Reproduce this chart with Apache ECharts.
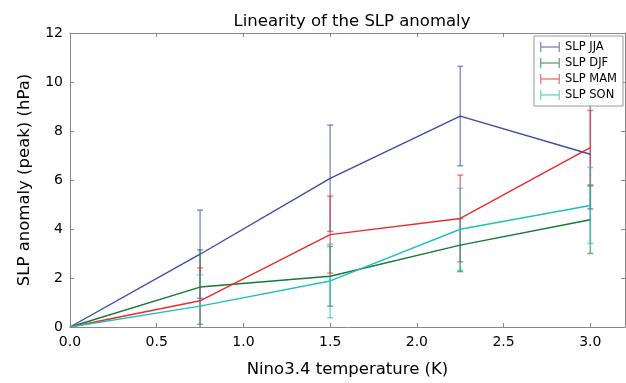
<!DOCTYPE html>
<html><head><meta charset="utf-8">
<script src="https://cdn.jsdelivr.net/npm/echarts@6/dist/echarts.min.js"></script>
<style>html,body{margin:0;padding:0;background:#fff}#c{width:626px;height:383px}</style>
</head><body><div id="c"></div>
<script>
const xValues = [0, 0.75, 1.5, 2.25, 3.0];
const seriesNames = ['SLP JJA', 'SLP DJF', 'SLP MAM', 'SLP SON'];
const jjaMean = [0, 2.97, 6.07, 8.61, 7.05];
const jjaErr  = [0, 1.80, 2.17, 2.03, 2.23];
const djfMean = [0, 1.63, 2.07, 3.34, 4.38];
const djfErr  = [0, 1.52, 1.22, 1.08, 1.38];
const mamMean = [0, 1.07, 3.77, 4.43, 7.32];
const mamErr  = [0, 1.35, 1.57, 1.77, 1.52];
const sonMean = [0, 0.85, 1.88, 3.99, 4.96];
const sonErr  = [0, 1.28, 1.50, 1.67, 1.55];
const xTicks = [0, 0.5, 1.0, 1.5, 2.0, 2.5, 3.0];
const yTicks = [0, 2, 4, 6, 8, 10, 12];

const colors = ['#3a4da8', '#137a35', '#ee2a2a', '#22bfbf'];
const errColors = ['rgba(58,77,168,0.6)', 'rgba(19,122,53,0.6)', 'rgba(238,42,42,0.6)', 'rgba(34,191,191,0.6)'];
const means = [jjaMean, djfMean, mamMean, sonMean];
const errs = [jjaErr, djfErr, mamErr, sonErr];
const FONT = 'DejaVu Sans';

const series = [];
seriesNames.forEach((name, i) => {
  series.push({
    name: name, type: 'custom', xAxisIndex: 0, yAxisIndex: 0, clip: true, z: 2,
    data: xValues.map((x, k) => [x, means[i][k] - errs[i][k], means[i][k] + errs[i][k]]).filter(d => d[2] > d[1]),
    renderItem: function (params, api) {
      const lo = api.coord([api.value(0), api.value(1)]);
      const hi = api.coord([api.value(0), api.value(2)]);
      const w = 3;
      const st = { stroke: errColors[i], lineWidth: 1.5 };
      return { type: 'group', children: [
        { type: 'line', shape: { x1: lo[0], y1: lo[1], x2: hi[0], y2: hi[1] }, style: st },
        { type: 'line', shape: { x1: lo[0] - w, y1: lo[1], x2: lo[0] + w, y2: lo[1] }, style: st },
        { type: 'line', shape: { x1: hi[0] - w, y1: hi[1], x2: hi[0] + w, y2: hi[1] }, style: st }
      ]};
    },
    itemStyle: { color: errColors[i] }
  });
});
seriesNames.forEach((name, i) => {
  series.push({
    name: name, type: 'line', xAxisIndex: 0, yAxisIndex: 0, z: 3,
    data: xValues.map((x, k) => [x, means[i][k]]),
    symbol: 'none', lineStyle: { color: colors[i], width: 1.4 }, itemStyle: { color: colors[i] }
  });
});

const hIcon = 'path://M0,0h1.4v4.3h17.2v-4.3h1.4v10h-1.4v-4.3h-17.2v4.3h-1.4z';
function axisLine() { return { show: true, onZero: false, lineStyle: { color: '#888', width: 1 } }; }
function axisTick(vals) {
  const t = { show: true, inside: true, length: 4, lineStyle: { color: '#888' } };
  if (vals) t.customValues = vals;
  return t;
}
const chart = echarts.init(document.getElementById('c'), null, { renderer: 'canvas' });
chart.setOption({
  animation: false,
  backgroundColor: '#fff',
  title: { text: 'Linearity of the SLP anomaly', left: 347, textAlign: 'center', top: 8,
    textStyle: { fontFamily: FONT, fontSize: 16.5, fontWeight: 'normal', color: '#000' } },
  legend: {
    right: 3, top: 36, orient: 'vertical', itemGap: 4, itemWidth: 20, itemHeight: 10,
    padding: [5, 6, 5, 6], borderColor: '#999', borderWidth: 1, backgroundColor: '#fff',
    textStyle: { fontFamily: FONT, fontSize: 11.5, color: '#000' },
    data: seriesNames.map((n, i) => ({ name: n, icon: hIcon, itemStyle: { color: errColors[i] } })),
    z: 10
  },
  grid: { left: 70, right: 1, top: 33, bottom: 54, containLabel: false },
  xAxis: [
    { type: 'value', min: 0, max: 3.2, position: 'bottom',
      name: 'Nino3.4 temperature (K)', nameLocation: 'middle', nameGap: 34,
      nameTextStyle: { fontFamily: FONT, fontSize: 16.5, color: '#000' },
      axisLabel: { fontFamily: FONT, fontSize: 14, color: '#000', margin: 8,
        customValues: xTicks, formatter: v => v.toFixed(1) },
      axisLine: axisLine(), axisTick: axisTick(xTicks), splitLine: { show: false } },
    { type: 'value', min: 0, max: 3.2, position: 'top',
      axisLabel: { show: false },
      axisLine: axisLine(), axisTick: axisTick(xTicks), splitLine: { show: false } }
  ],
  yAxis: [
    { type: 'value', min: 0, max: 12, interval: 2, position: 'left',
      name: 'SLP anomaly (peak) (hPa)', nameLocation: 'middle', nameGap: 37,
      nameTextStyle: { fontFamily: FONT, fontSize: 16.5, color: '#000' },
      axisLabel: { fontFamily: FONT, fontSize: 14, color: '#000', margin: 7 },
      axisLine: axisLine(), axisTick: axisTick(), splitLine: { show: false } },
    { type: 'value', min: 0, max: 12, interval: 2, position: 'right',
      axisLabel: { show: false },
      axisLine: axisLine(), axisTick: axisTick(), splitLine: { show: false } }
  ],
  series: series
});
</script></body></html>
